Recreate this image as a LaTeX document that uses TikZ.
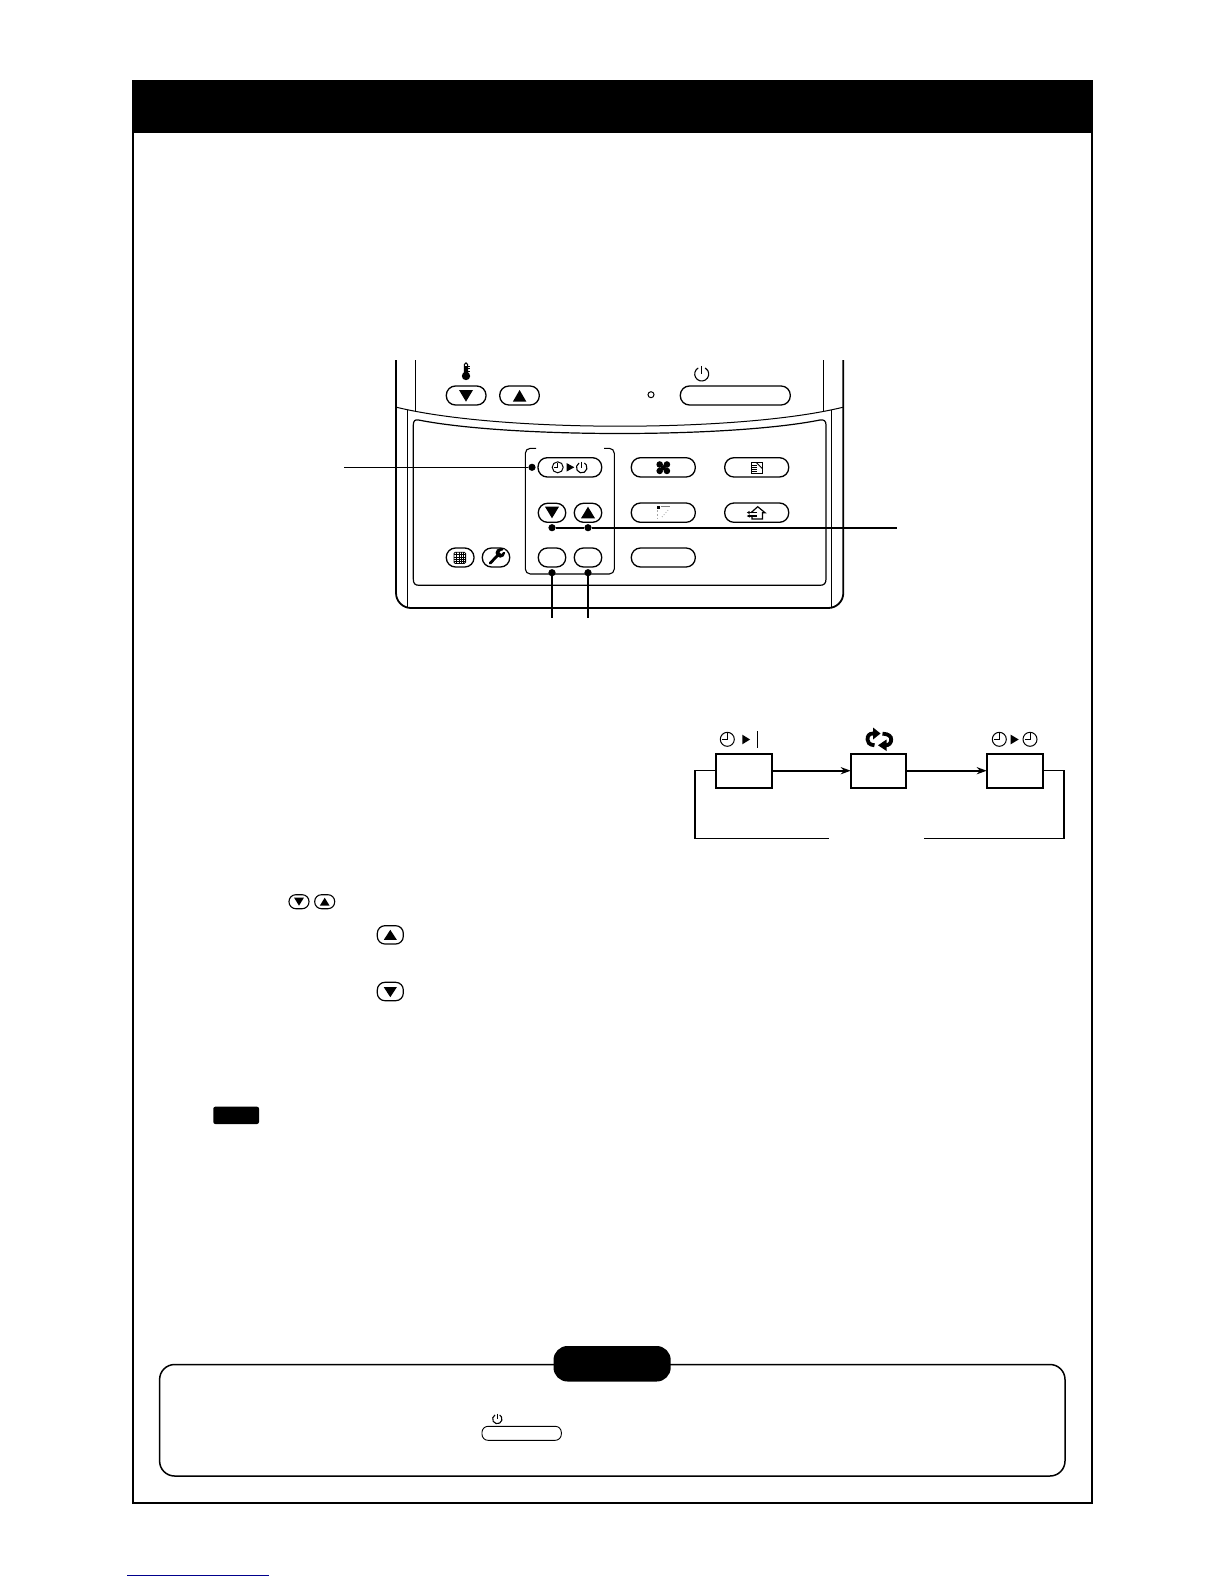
\documentclass[tikz,border=0pt]{standalone}
\usetikzlibrary{fit,arrows.meta,calc}
\tikzset{
  btn/.style={draw=black,line width=0.65pt,rounded corners=4.6pt,inner sep=0pt,outer sep=0pt,fill=white},
  smallbtn/.style={btn,line width=0.55pt,rounded corners=3.4pt},
  plainbox/.style={draw=black,line width=1pt,inner sep=0pt,outer sep=0pt,fill=white},
  dot/.style={circle,fill=black,inner sep=0pt,minimum size=3.6pt,outer sep=0pt},
  leader/.style={line width=0.6pt},
  leaderB/.style={line width=0.8pt},
  loopline/.style={line width=0.7pt},
  flowarrow/.style={line width=0.95pt,-{Stealth[length=5pt,width=3.6pt]}},
  casing/.style={line width=0.9pt},
  thinline/.style={line width=0.5pt},
  blackbox/.style={fill=black,inner sep=0pt,outer sep=0pt},
}
\newcommand\TriDn[4]{\fill ({#1-#3},#2) -- ({#1+#3},#2) -- (#1,{#2+#4}) -- cycle;}
\newcommand\TriUp[4]{\fill ({#1-#3},{#2+#4}) -- ({#1+#3},{#2+#4}) -- (#1,#2) -- cycle;}
\newcommand\TriRt[4]{\fill (#1,{#2-#4}) -- (#1,{#2+#4}) -- ({#1+#3},#2) -- cycle;}
% clock: x y radius(px)
\newcommand\ClockIcon[3]{%
  \draw[line width=0.5pt] (#1,#2) circle[radius=#3*0.5pt];
  \draw[line width=0.5pt] (#1,{#2-#3*0.85}) -- (#1,#2) -- ({#1-#3*0.75},#2);}
% power: x y radius(px)
\newcommand\PowerIcon[3]{%
  \draw[line width=0.55pt] ({#1-#3*0.5},{#2-#3*0.866}) arc[start angle=120,end angle=420,radius=#3*0.5pt];
  \draw[line width=0.55pt] (#1,{#2-#3*1.15}) -- (#1,#2);}
\begin{document}
\begin{tikzpicture}[x=0.5pt,y=-0.5pt]
\useasboundingbox (0,0) rectangle (1224,1584);
\fill[white] (0,0) rectangle (1224,1584);
% page frame
\node[draw=black,line width=1pt,inner sep=0pt,fit={(132.8,81)(1091.5,1503)}] (frame) {};
\node[blackbox,fit={(132.3,80.5)(1092,133)}] (header) {};

% remote casing
\draw[casing,rounded corners=7.5pt] (396,360) -- (396,608) -- (843.3,608) -- (843.3,360);
\draw[thinline] (415.7,360) -- (415.7,411.7);
\draw[thinline] (823.3,360) -- (823.3,411.7);
\draw[thinline] (407.7,410) -- (407.7,608);
\draw[thinline] (831.7,410) -- (831.7,608);
\draw[thinline] (396.7,407.3) .. controls (500,432.5) and (740,432.5) .. (842.7,407.3);
% panel
\draw[line width=0.6pt] (418.5,420) .. controls (510,438) and (730,438) .. (820,420)
  .. controls (824,419.3) and (826,421) .. (826,425) -- (826,579)
  .. controls (826,583.5) and (824,585.3) .. (820,585.3) -- (419,585.3)
  .. controls (415,585.3) and (413.3,583.5) .. (413.3,579) -- (413.3,425)
  .. controls (413.3,421) and (415,419.3) .. (418.5,420) -- cycle;
% bracket
\draw[line width=0.55pt,rounded corners=2.5pt] (536,448.3) -- (525.3,448.3) -- (525.3,574) -- (614.3,574) -- (614.3,448.3) -- (604,448.3);

% leaders
\node[dot] (dA) at (532,467.3) {};
\node[dot] (dB) at (552,527.7) {};
\node[dot] (dC) at (588,527.7) {};
\node[dot] (dD) at (552,572.7) {};
\node[dot] (dE) at (588,572.7) {};
\coordinate (endA) at (344,467.3);
\coordinate (endB) at (896.7,527.7);
\coordinate (endD) at (552,617.7);
\coordinate (endE) at (588,617.7);
\draw[leader] (endA) -- (dA);
\draw[leaderB] (dB) -- (dC) -- (endB);
\draw[leaderB] (dD) -- (endD);
\draw[leaderB] (dE) -- (endE);

% top row
\node[btn,fit={(446.3,386)(486,405)}] (tempdn) {};
\node[btn,fit={(499.7,386)(539.3,405)}] (tempup) {};
\TriDn{466}{390}{7}{11.7}
\TriUp{519.6}{390}{6.8}{11.7}
\draw[line width=0.5pt] (651,394.7) circle[radius=1.5pt];
\node[btn,fit={(680.3,386)(790.3,405)}] (power) {};
\PowerIcon{701.7}{374}{7}
% thermometer
\draw[line width=0.5pt] (464.3,374) -- (464.3,364.5) arc[start angle=180,end angle=0,radius=0.85pt] -- (467.7,374);
\fill (466,376) circle[radius=2.1pt];
\fill (464.8,366) rectangle (467.2,376);
\draw[line width=0.3pt] (467.5,366) -- (469.5,366) (467.5,368.5) -- (469.5,368.5) (467.5,371) -- (469.5,371);

% timer buttons
\node[btn,fit={(538,457.7)(601.7,477)}] (timer) {};
\ClockIcon{557.7}{467.3}{5.5}
\TriRt{566.7}{467.3}{7.6}{4.2}
\PowerIcon{581.7}{467.6}{5.3}
\node[btn,fit={(538.3,503.3)(565.7,522.3)}] (setdn) {};
\node[btn,fit={(574.3,503.3)(601.7,522.3)}] (setup) {};
\TriDn{552}{506.7}{7}{11.6}
\TriUp{588}{506.7}{7}{11.6}
\node[btn,fit={(538.3,548)(565.7,567)}] (keyA) {};
\node[btn,fit={(574.3,548)(601.7,567)}] (keyB) {};
\node[btn,fit={(446.3,548)(474,567)}] (grid) {};
\node[btn,fit={(482.3,548)(509.7,567)}] (wrench) {};
% grid icon
\draw[line width=0.4pt,rounded corners=0.6pt] (454,552.3) rectangle (465.6,563.4);
\foreach \k in {456.4,458.7,461,463.3} \draw[line width=0.15pt] (\k,552.3) -- (\k,563.4);
\foreach \k in {554.5,556.7,558.9,561.1} \draw[line width=0.15pt] (454,\k) -- (465.6,\k);
% wrench icon
\draw[line width=1.4pt,line cap=round] (490.2,563.2) -- (497.6,555.4);
\fill (500.3,552.9) circle[radius=2.4pt];
\fill[white] (501.3,551.9) -- (504,549) -- (506,552) -- cycle;
\fill[white] (501.2,552.2) circle[radius=0.8pt];

% right columns
\node[btn,fit={(631.3,457.7)(695.3,477)}] (fan) {};
\node[btn,fit={(724.7,457.7)(788.7,477)}] (doc) {};
\node[btn,fit={(631.3,503)(695.3,522.3)}] (dots) {};
\node[btn,fit={(724.7,503)(788.7,522.3)}] (house) {};
\node[btn,fit={(631.3,548)(695.3,567)}] (wide) {};
% fan icon
\foreach \a/\b in {-3.6/-3.2,3.6/-3.2,-3.6/3.2,3.6/3.2}
  \fill ({663.3+\a},{467.7+\b}) circle[radius=1.65pt];
\fill (663.3,467.7) circle[radius=1.3pt];
% doc icon
\draw[line width=0.5pt] (751,462.3) rectangle (762.3,473.7);
\draw[line width=0.4pt] (756,462.3) -- (762.3,468.5);
\foreach \k in {465,467,469,471} \draw[line width=0.3pt] (751,\k) -- (756.5,\k);
% dotted icon
\fill (656.8,506.2) rectangle (659.8,509);
\draw[gray,line width=0.4pt] (660.5,506.4) -- (670,506.4);
\draw[gray!70,line width=0.9pt,densely dotted] (657.5,510) -- (657.5,518.5);
\draw[gray!70,line width=0.4pt,densely dotted] (662,517) -- (669,509);
% house icon
\draw[line width=0.6pt] (751,512.7) -- (757.7,506.7) -- (765,512.7) -- (762.4,512.7) -- (762.4,519) -- (752,519) -- (752,516.5);
\draw[line width=0.55pt,-{Stealth[length=1.5pt,width=1.6pt]}] (757,512.5) -- (746.8,512.5);
\draw[line width=0.55pt,-{Stealth[length=1.5pt,width=1.6pt]}] (757,516) -- (746.8,516);

% flow diagram
\node[plainbox,fit={(715.7,753.7)(772,787.7)}] (b1) {};
\node[plainbox,fit={(850.7,753.7)(906,787.7)}] (b2) {};
\node[plainbox,fit={(986.7,753.7)(1043.3,787.7)}] (b3) {};
\draw[flowarrow] (b1) -- (b2);
\draw[flowarrow] (b2) -- (b3);
\coordinate (cornL) at (695,838.3);
\coordinate (cornR) at (1064,838.3);
\coordinate (endL) at (828.7,838.3);
\coordinate (endR) at (924,838.3);
\draw[loopline] (b1.west) -| (cornL) -- (endL);
\draw[loopline] (b3.east) -| (cornR) -- (endR);
\ClockIcon{727.3}{739.3}{7}
\TriRt{742.3}{739.5}{7.8}{4.8}
\draw[line width=0.75pt] (757.7,731) -- (757.7,748);
\ClockIcon{999.3}{739.3}{7}
\TriRt{1010.7}{739.5}{8}{4.8}
\ClockIcon{1030}{739.3}{7}
% repeat icon
\draw[line width=1.9pt] (874.5,745.3) .. controls (869,744.8) and (867.5,742) .. (867.5,739.5)
  .. controls (867.5,736) and (869,733.5) .. (873,733.5) -- (874,733.5);
\fill (873,727.5) -- (873,739.5) -- (880.5,733.5) -- cycle;
\draw[line width=1.9pt] (882.5,733.6) .. controls (889,734) and (891.2,736.5) .. (891.2,739.5)
  .. controls (891.2,743) and (889,745.3) .. (885.5,745.3) -- (885,745.3);
\fill (886.5,739.5) -- (886.5,751) -- (878,745.3) -- cycle;

% inline buttons
\node[smallbtn,fit={(289,894.7)(309,908.7)}] (inlineDn) {};
\node[smallbtn,fit={(314.7,894.7)(334.7,908.7)}] (inlineUp) {};
\TriDn{299}{897.7}{4.9}{8}
\TriUp{324.7}{897.7}{4.9}{8}
\node[btn,line width=0.6pt,rounded corners=3.8pt,fit={(377.3,925.7)(403.3,944)}] (bigUp) {};
\TriUp{390.3}{929.8}{6.5}{10}
\node[btn,line width=0.6pt,rounded corners=3.8pt,fit={(377.3,982.3)(403.3,1000.7)}] (bigDn) {};
\TriDn{390.3}{987.2}{6.5}{10}
\node[blackbox,rounded corners=1pt,fit={(213.3,1106.7)(259,1124)}] (note) {};

% caution box
\node[draw=black,line width=0.75pt,rounded corners=7.5pt,inner sep=0pt,fit={(159.6,1364.5)(1065,1476)}] (caution) {};
\node[blackbox,rounded corners=7pt,fit={(553.5,1346)(670.7,1381.5)}] (pill) {};
\PowerIcon{497.3}{1419}{4.7}
\node[smallbtn,line width=0.45pt,rounded corners=3pt,fit={(482,1426.3)(561.3,1440.3)}] (capPower) {};

% blue rule
\coordinate (ruleA) at (127,1575.3);
\coordinate (ruleB) at (269,1575.3);
\draw[color={rgb,255:red,0;green,0;blue,140},line width=0.5pt] (ruleA) -- (ruleB);
\end{tikzpicture}
\end{document}
